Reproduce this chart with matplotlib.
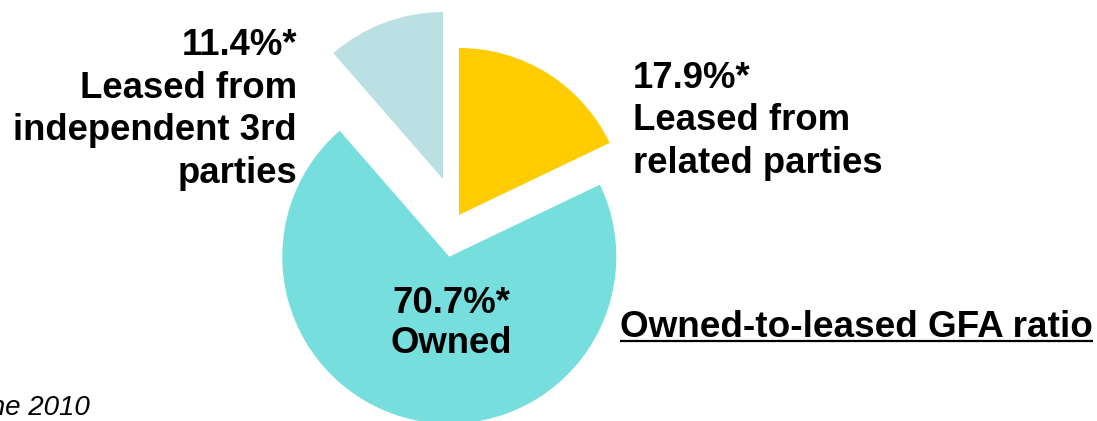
import matplotlib
matplotlib.use("Agg")
import matplotlib.pyplot as plt

# GFA split (per cent)
shares = [17.9, 70.7, 11.4]
names = ["Leased from\nrelated parties", "Owned", "Leased from\nindependent 3rd\nparties"]
colors = ["#FFCC00", "#76DEDC", "#BAE0E3"]
explode_px = [3, 40, 41]

W, H = 1097, 421
plt.rcParams["font.family"] = ["Liberation Sans", "DejaVu Sans"]

fig = plt.figure(figsize=(W / 100, H / 100), dpi=100)
ax = fig.add_axes([0, 0, 1, 1])

# axes in pixel units, so the explode offsets are in pixels too
ax.pie(shares, colors=colors, explode=explode_px, startangle=90, counterclock=False,
       radius=167, center=(457.4, H - 217.5), wedgeprops=dict(linewidth=0))
ax.set_xlim(0, W)
ax.set_ylim(0, H)
ax.set_aspect("equal")
ax.axis("off")

lab = dict(fontsize=26.3, fontweight="bold", color="black", linespacing=1.28)

# multi-line labels anchored at the baseline of their last line
ax.text(633, H - 173, f"{shares[0]}%*\n{names[0]}", ha="left", va="baseline", **lab)
ax.text(451, H - 353, f"{shares[1]}%*\n{names[1]}", ha="center", va="baseline",
        **dict(lab, linespacing=1.2))
ax.text(297, H - 183, f"{shares[2]}%*\n{names[2]}", ha="right", va="baseline",
        multialignment="right", **lab)

title = ax.text(620, H - 337, "Owned-to-leased GFA ratio", ha="left", va="baseline",
                **dict(lab, fontsize=26.55))
ax.text(90, H - 415, "As at 30 June 2010", ha="right", va="baseline",
        fontsize=20, fontstyle="italic", color="black")

# underline the title
fig.canvas.draw()
bb = title.get_window_extent().transformed(ax.transData.inverted())
ax.plot([bb.x0, bb.x1], [H - 340.5, H - 340.5], color="black", lw=1.6, solid_capstyle="butt")

fig.savefig("out.png", dpi=100)
